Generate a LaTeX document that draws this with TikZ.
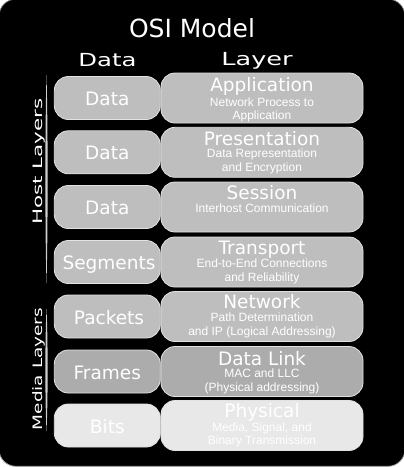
\documentclass[tikz,border=0pt]{standalone}
\usepackage{fontspec}
\setmainfont{DejaVu Sans}
\newfontfamily\arialf{Liberation Sans}
\definecolor{boxgray}{RGB}{190,190,190}
\definecolor{boxdark}{RGB}{172,172,172}
\definecolor{boxlight}{RGB}{232,232,232}
\definecolor{edgegray}{RGB}{226,226,226}
\definecolor{linegray}{RGB}{205,205,205}
\begin{document}
\begin{tikzpicture}[x=1pt,y=-1pt,
  lbox/.style={draw=edgegray, line width=0.8pt, rounded corners=14pt, minimum width=106pt, minimum height=43pt, inner sep=0pt},
  rbox/.style={draw=edgegray, line width=0.8pt, rounded corners=14pt, minimum width=202pt, minimum height=50pt, inner sep=0pt},
  lab/.style={text=white, inner sep=0pt, anchor=base, font=\fontsize{18.5}{20}\selectfont},
  sub/.style={text=white, inner sep=0pt, anchor=base, font=\arialf\fontsize{12}{13}\selectfont},
  side/.style={text=white, inner sep=0pt, anchor=base, rotate=90, font=\fontsize{13}{14}\selectfont},
  lens/.style={fill=linegray}
]
\useasboundingbox (0,0) rectangle (404,467);
\fill[black, rounded corners=17pt] (-1,-1) rectangle (405,466.3);
\draw[gray!75, line width=0.8pt, rounded corners=17pt] (-1,-1) rectangle (405,466.3);

% title and headers
\node[lab, font=\fontsize{25}{28}\selectfont] (title) at (192,37) {OSI Model};
\node[lab, font=\fontsize{18}{20}\selectfont] (hdata) at (107.5,66) {\scalebox{1.35}[1]{Data}};
\node[lab, font=\fontsize{18}{20}\selectfont] (hlayer) at (257,65) {\scalebox{1.42}[1]{Layer}};

% side brackets
\fill[lens] (46.5,75) .. controls (48,130) and (48,228) .. (46.5,283) .. controls (45,228) and (45,130) .. cycle;
\fill[lens] (46.5,309) .. controls (48,340) and (48,400) .. (46.5,431) .. controls (45,400) and (45,340) .. cycle;
\node[side] (host) at (42.5,161.5) {\scalebox{1.65}[1]{Host Layers}};
\node[side] (media) at (42.5,369) {\scalebox{1.42}[1]{Media Layers}};

% row 7 Application
\node[lbox, fill=boxgray] (l7) at (107.3,98) {};
\node[rbox, fill=boxgray] (r7) at (262,98) {};
\node[lab] (l7t) at (107.3,105.5) {Data};
\node[lab] (r7t) at (262,91.5) {Application};
\node[sub] (r7a) at (262,106) {Network Process to};
\node[sub] (r7b) at (262,119.5) {Application};

% row 6 Presentation
\node[lbox, fill=boxgray] (l6) at (107.3,152.3) {};
\node[rbox, fill=boxgray] (r6) at (262,152.3) {};
\node[lab] (l6t) at (107.3,159.8) {Data};
\node[lab] (r6t) at (262,145) {Presentation};
\node[sub] (r6a) at (262,157.5) {Data Representation};
\node[sub] (r6b) at (262,171) {and Encryption};

% row 5 Session
\node[lbox, fill=boxgray] (l5) at (107.3,207) {};
\node[rbox, fill=boxgray] (r5) at (262,207) {};
\node[lab] (l5t) at (107.3,214.5) {Data};
\node[lab] (r5t) at (262,199.8) {Session};
\node[sub] (r5a) at (262,212.5) {Interhost Communication};

% row 4 Transport
\node[lbox, fill=boxgray] (l4) at (107.3,262) {};
\node[rbox, fill=boxgray] (r4) at (262,262) {};
\node[lab] (l4t) at (109,269.5) {Segments};
\node[lab] (r4t) at (262,254.6) {Transport};
\node[sub] (r4a) at (262,267.6) {End-to-End Connections};
\node[sub] (r4b) at (262,281) {and Reliability};

% row 3 Network
\node[lbox, fill=boxgray] (l3) at (107.3,316.5) {};
\node[rbox, fill=boxgray] (r3) at (262,316.5) {};
\node[lab] (l3t) at (109,324) {Packets};
\node[lab] (r3t) at (262,308.5) {Network};
\node[sub] (r3a) at (262,321.7) {Path Determination};
\node[sub] (r3b) at (262,335.2) {and IP (Logical Addressing)};

% row 2 Data Link
\node[lbox, fill=boxdark] (l2) at (107.3,371.5) {};
\node[rbox, fill=boxdark] (r2) at (262,371.5) {};
\node[lab] (l2t) at (107.3,379) {Frames};
\node[lab] (r2t) at (262,365) {Data Link};
\node[sub] (r2a) at (262,377.7) {MAC and LLC};
\node[sub] (r2b) at (262,391.2) {(Physical addressing)};

% row 1 Physical
\node[lbox, fill=boxlight] (l1) at (107.3,425.5) {};
\node[rbox, fill=boxlight] (r1) at (262,425.5) {};
\node[lab] (l1t) at (107.3,433) {Bits};
\node[lab] (r1t) at (262,417) {Physical};
\node[sub] (r1a) at (262,431.5) {Media, Signal, and};
\node[sub] (r1b) at (262,444.5) {Binary Transmission};
\end{tikzpicture}
\end{document}
